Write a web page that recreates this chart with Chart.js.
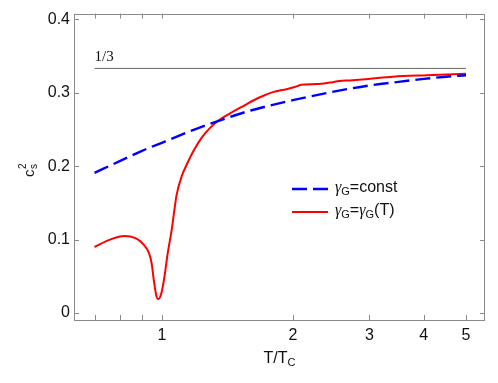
<!DOCTYPE html>
<html><head><meta charset="utf-8">
<script src="https://cdn.jsdelivr.net/npm/chart.js@4/dist/chart.umd.min.js"></script>
<style>html,body{margin:0;padding:0;background:#fff;}#wrap{width:498px;height:383px;}</style>
</head><body><div id="wrap"><canvas id="c" width="498" height="383"></canvas></div>
<script>
// ---- data ----
const xTickValues = [0.7, 0.8, 0.9, 1, 2, 3, 4, 5];
const xTickLabels = ['', '', '', '1', '2', '3', '4', '5'];
const yTickValues = [0, 0.1, 0.2, 0.3, 0.4];
const yTickLabels = ['0', '0.1', '0.2', '0.3', '0.4'];

const blueT = [0.7, 0.8, 0.9, 1.0, 1.2, 1.4, 1.6, 2.0, 2.5, 3.0, 3.5, 4.0, 4.5, 5.0];
const blueC = [0.191, 0.207, 0.221, 0.232, 0.251, 0.265, 0.276, 0.290, 0.302, 0.310, 0.315, 0.319, 0.322, 0.324];

const redT = [0.70, 0.76, 0.82, 0.87, 0.906, 0.935, 0.947, 0.958, 0.970, 0.981, 0.995, 1.011, 1.031, 1.053, 1.066, 1.081, 1.11, 1.14, 1.18, 1.238, 1.289, 1.347, 1.434, 1.538, 1.665, 1.80, 1.935, 2.02, 2.09, 2.27, 2.43, 2.56, 2.70, 2.98, 3.4, 4.06, 5.0];
const redC = [0.090, 0.100, 0.105, 0.102, 0.094, 0.081, 0.068, 0.045, 0.025, 0.019, 0.025, 0.045, 0.081, 0.113, 0.136, 0.161, 0.186, 0.202, 0.220, 0.240, 0.252, 0.262, 0.272, 0.282, 0.293, 0.301, 0.305, 0.308, 0.311, 0.312, 0.314, 0.316, 0.317, 0.319, 0.322, 0.324, 0.326];

const refT = [0.7, 5];
const refC = [1 / 3, 1 / 3];
const refLabel = '1/3';

const seriesNames = ['γG=const', 'γG=γG(T)'];

// ---- helpers ----
const pts = (xs, ys) => xs.map((x, i) => ({ x: x, y: ys[i] }));
const SANS = '"Liberation Sans", Arial, Helvetica, sans-serif';
const SERIF = '"Liberation Serif", "Times New Roman", serif';

function drawRich(ctx, x, y, parts) {
  let cx = x;
  parts.forEach(p => {
    ctx.font = p.f;
    ctx.fillText(p.t, cx, y + (p.dy || 0));
    cx += ctx.measureText(p.t).width + (p.gap || 0);
  });
}

const decor = {
  id: 'decor',
  afterDraw(chart) {
    const ctx = chart.ctx;
    const a = chart.chartArea;
    const xs = chart.scales.x, ys = chart.scales.y;
    ctx.save();
    // frame
    ctx.strokeStyle = '#8a8a8a';
    ctx.lineWidth = 1;
    ctx.strokeRect(Math.round(a.left) + 0.5, Math.round(a.top) + 0.5, Math.round(a.right - a.left) - 1, Math.round(a.bottom - a.top));
    // inward ticks
    ctx.beginPath();
    xTickValues.forEach(v => {
      const px = Math.round(xs.getPixelForValue(v)) + 0.5;
      ctx.moveTo(px, a.bottom); ctx.lineTo(px, a.bottom - 5);
      ctx.moveTo(px, a.top); ctx.lineTo(px, a.top + 5);
    });
    yTickValues.forEach(v => {
      const py = Math.round(ys.getPixelForValue(v)) + 0.5;
      ctx.moveTo(a.left, py); ctx.lineTo(a.left + 5, py);
      ctx.moveTo(a.right, py); ctx.lineTo(a.right - 5, py);
    });
    ctx.stroke();

    ctx.fillStyle = '#111';
    ctx.textBaseline = 'alphabetic';
    ctx.textAlign = 'left';
    // 1/3 label
    ctx.font = '15px ' + SERIF;
    ctx.fillText(refLabel, xs.getPixelForValue(refT[0]), ys.getPixelForValue(refC[0]) - 7);

    // legend
    const lx0 = 292, lx1 = 328;
    const rows = [
      { y: 189, color: '#0000ff', dash: [15, 6], w: 2.4,
        parts: [{ t: 'γ', f: 'italic 16px ' + SERIF }, { t: 'G', f: '11px ' + SANS, dy: 2.5 }, { t: '=const', f: '16px ' + SANS }] },
      { y: 212, color: '#ff0000', dash: [], w: 2,
        parts: [{ t: 'γ', f: 'italic 16px ' + SERIF }, { t: 'G', f: '11px ' + SANS, dy: 2.5 }, { t: '=', f: '16px ' + SANS }, { t: 'γ', f: 'italic 16px ' + SERIF }, { t: 'G', f: '11px ' + SANS, dy: 2.5 }, { t: '(T)', f: '16px ' + SANS }] }
    ];
    rows.forEach(r => {
      ctx.save();
      ctx.strokeStyle = r.color; ctx.lineWidth = r.w; ctx.setLineDash(r.dash);
      ctx.beginPath(); ctx.moveTo(lx0, r.y); ctx.lineTo(lx1, r.y); ctx.stroke();
      ctx.restore();
      ctx.fillStyle = '#111';
      drawRich(ctx, 335, r.y + 3, r.parts);
    });

    // x title T/T_C
    const xc = (a.left + a.right) / 2;
    ctx.font = '16px ' + SANS;
    const w1 = ctx.measureText('T/T').width;
    ctx.font = '11px ' + SANS;
    const w2 = ctx.measureText('C').width;
    drawRich(ctx, xc - (w1 + w2) / 2, 363, [{ t: 'T/T', f: '16px ' + SANS }, { t: 'C', f: '11px ' + SANS, dy: 2.5 }]);

    // y title c_s^2
    ctx.save();
    ctx.translate(34, 177);
    ctx.rotate(-Math.PI / 2);
    ctx.font = '15px ' + SANS;
    ctx.fillText('c', 0, 0);
    const cw = ctx.measureText('c').width;
    ctx.font = '10px ' + SANS;
    ctx.fillText('s', cw + 0.5, 2.5);
    ctx.fillText('2', cw + 0.5, -8);
    ctx.restore();

    ctx.restore();
  }
};

new Chart(document.getElementById('c'), {
  type: 'line',
  data: {
    datasets: [
      { label: '1/3', data: pts(refT, refC), borderColor: '#666666', borderWidth: 1, pointRadius: 0, fill: false },
      { label: seriesNames[0], data: pts(blueT, blueC), borderColor: '#0000ff', borderWidth: 2.4, borderDash: [15, 6], pointRadius: 0, fill: false, cubicInterpolationMode: 'monotone' },
      { label: seriesNames[1], data: pts(redT, redC), borderColor: '#ff0000', borderWidth: 2, pointRadius: 0, fill: false, cubicInterpolationMode: 'monotone' }
    ]
  },
  options: {
    responsive: false,
    animation: false,
    devicePixelRatio: 1,
    layout: { padding: { left: 0, top: 13, right: 13, bottom: 0 } },
    plugins: { legend: { display: false }, tooltip: { enabled: false } },
    scales: {
      x: {
        type: 'logarithmic', min: 0.628, max: 5.53, bounds: 'data',
        afterDataLimits: s => { s.min = 0.628; s.max = 5.53; },
        afterBuildTicks: s => { s.ticks = xTickValues.map(v => ({ value: v })); s.min = 0.628; s.max = 5.53; },
        afterFit: s => { s.height = 63; },
        grid: { display: false, drawTicks: false },
        border: { display: false },
        ticks: { autoSkip: false, maxRotation: 0, padding: 6, color: '#111', font: { family: SANS, size: 16 },
                 callback: (v, i) => xTickLabels[i] }
      },
      y: {
        type: 'linear', min: -0.0095, max: 0.408,
        afterBuildTicks: s => { s.ticks = yTickValues.map(v => ({ value: v })); },
        afterFit: s => { s.width = 74; },
        grid: { display: false, drawTicks: false },
        border: { display: false },
        ticks: { padding: 4, color: '#111', font: { family: SANS, size: 16 },
                 callback: (v, i) => yTickLabels[i] }
      }
    }
  },
  plugins: [decor]
});
</script></body></html>
